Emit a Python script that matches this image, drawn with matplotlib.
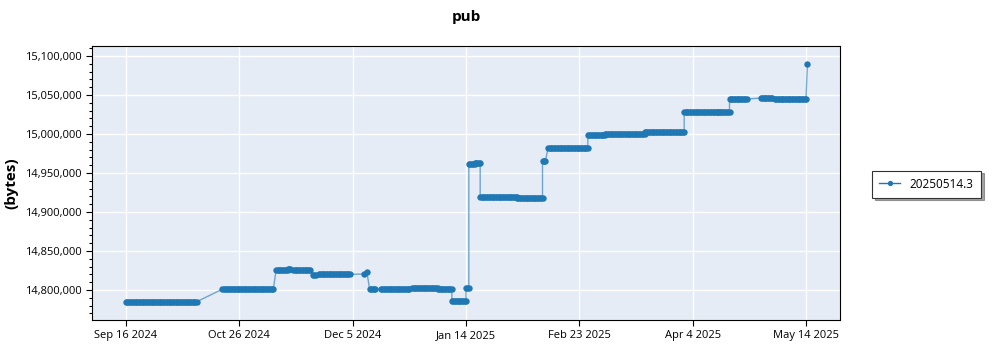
import matplotlib
matplotlib.use("Agg")
import matplotlib.pyplot as plt
from matplotlib.ticker import FuncFormatter, MultipleLocator
import pandas as pd

plt.rcParams['font.family'] = ['Open Sans', 'DejaVu Sans']

series_name = "20250514.3"
title = "pub"
y_label = "(bytes)"

# Runs of samples (start day, end day, value in bytes)
run_start = ["2024-09-16", "2024-10-20", "2024-11-08", "2024-11-12", "2024-11-14",
             "2024-11-21", "2024-11-23", "2024-12-09", "2024-12-10", "2024-12-11",
             "2024-12-15", "2024-12-26", "2025-01-04", "2025-01-09", "2025-01-14",
             "2025-01-15", "2025-01-17", "2025-01-19", "2025-02-01", "2025-02-10",
             "2025-02-12", "2025-02-26", "2025-03-04", "2025-03-18", "2025-04-01",
             "2025-04-13", "2025-04-17", "2025-04-28", "2025-05-03"]
run_end = ["2024-10-11", "2024-11-07", "2024-11-12", "2024-11-13", "2024-11-20",
           "2024-11-22", "2024-12-04", "2024-12-09", "2024-12-10", "2024-12-13",
           "2024-12-25", "2025-01-04", "2025-01-09", "2025-01-14", "2025-01-15",
           "2025-01-17", "2025-01-19", "2025-02-01", "2025-02-10", "2025-02-11",
           "2025-02-26", "2025-03-04", "2025-03-18", "2025-04-01", "2025-04-13",
           "2025-04-17", "2025-04-23", "2025-05-02", "2025-05-14"]
run_value = [14785000, 14801000, 14826000, 14826900, 14825000,
             14819200, 14820000, 14820500, 14823000, 14801000,
             14800800, 14802000, 14801800, 14786000, 14802000,
             14961000, 14962300, 14919600, 14917500, 14965000,
             14982400, 14998700, 14999400, 15002200, 15027800,
             15028600, 15044800, 15046100, 15044900]

last_time = "2025-05-14 12:00"
last_value = 15089700

x_tick_dates = ["2024-09-16", "2024-10-26", "2024-12-05", "2025-01-14",
                "2025-02-23", "2025-04-04", "2025-05-14"]
x_tick_labels = ["Sep 16 2024", "Oct 26 2024", "Dec 5 2024", "Jan 14 2025",
                 "Feb 23 2025", "Apr 4 2025", "May 14 2025"]

# Build the sample list (samples every 12 hours within each run)
times, values = [], []
for s, e, v in zip(run_start, run_end, run_value):
    rng = pd.date_range(s, e, freq="12h")
    times.extend(rng)
    values.extend([v] * len(rng))
times.append(pd.Timestamp(last_time))
values.append(last_value)

fig = plt.figure(figsize=(10, 3.5), dpi=100)
ax = fig.add_axes([0.092, 0.0857, 0.748, 0.783])
ax.set_facecolor("#E5ECF6")

color = "#1f77b4"
ax.plot(times, values, color=color, lw=1.0, alpha=0.6, zorder=2)
ax.plot(times, values, ls="none", marker="o", ms=4.6, mew=0,
        color=color, zorder=3)
# legend proxy
ax.plot([], [], color=color, lw=1.0, marker="o", ms=3.8, mew=0, label=series_name)

ax.set_xlim(pd.Timestamp("2024-09-04"), pd.Timestamp("2025-05-26"))
ax.set_ylim(14761500, 15112800)

ax.set_xticks([pd.Timestamp(d) for d in x_tick_dates])
ax.set_xticklabels(x_tick_labels)
ax.yaxis.set_major_locator(MultipleLocator(50000))
ax.yaxis.set_minor_locator(MultipleLocator(10000))
ax.yaxis.set_major_formatter(FuncFormatter(lambda v, p: f"{int(round(v)):,}"))

ax.grid(True, which="major", color="white", lw=1.0, zorder=0)
ax.set_axisbelow(True)
ax.tick_params(axis="both", which="major", labelsize=8, length=4, width=0.8, colors="black")
ax.tick_params(axis="y", which="minor", length=2.5, width=0.8)
for sp in ax.spines.values():
    sp.set_color("black")
    sp.set_linewidth(0.8)

ax.set_title(title, fontsize=11, fontweight="bold", pad=18)
ax.set_ylabel(y_label, fontsize=11, fontweight="bold", labelpad=5)

leg = fig.legend(loc="center", bbox_to_anchor=(0.9265, 0.474), fontsize=8.5,
                 frameon=True, fancybox=False, shadow=True, handlelength=1.8,
                 borderpad=0.6)
leg.get_frame().set_edgecolor("#333333")
leg.get_frame().set_linewidth(0.8)

fig.savefig("out.png", dpi=100)
